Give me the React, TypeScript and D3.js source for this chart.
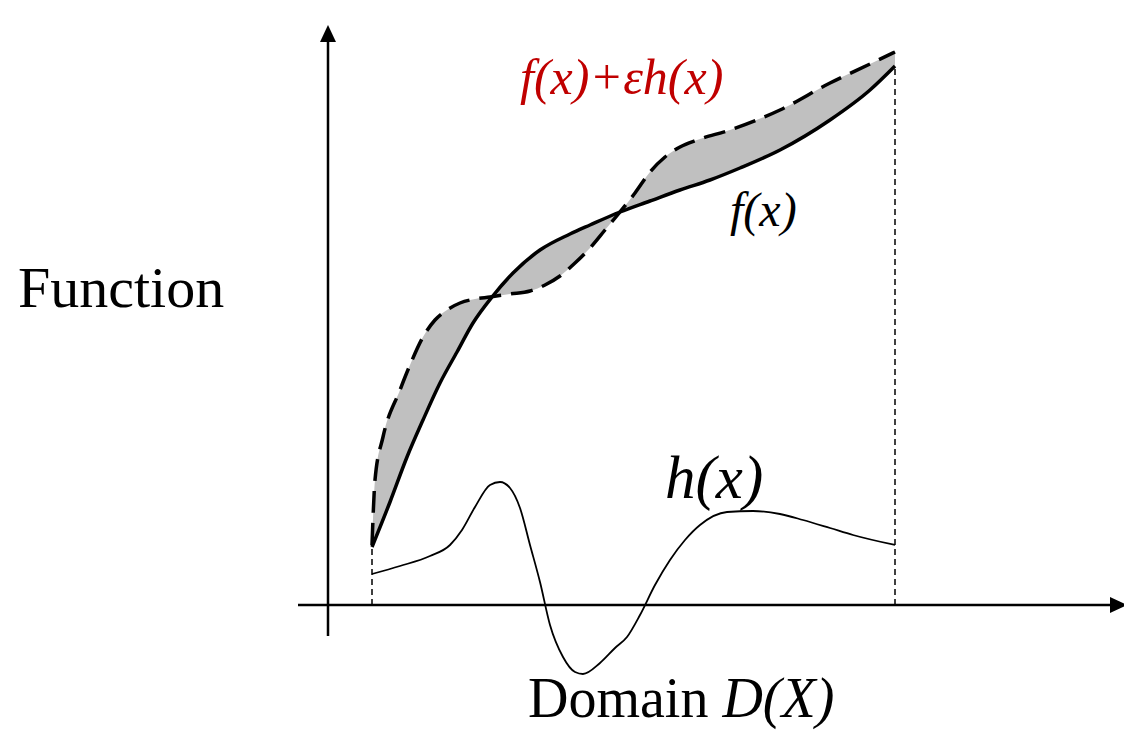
import * as d3 from "d3";

// f(x): the base function (solid)
const fX = [0, 18, 35, 51, 68, 85, 101, 120, 141, 168, 198, 218, 248, 278, 308, 338, 368, 408, 458, 498, 523];
const fY = [58, 103, 148, 185, 222, 253, 282, 308, 332, 355, 371, 380, 393, 404, 415, 425, 437, 455, 485, 515, 539];

// f(x) + eps*h(x): perturbed function (dashed)
const gX = [0, 3, 11, 28, 38, 51, 63, 75, 88, 103, 118, 138, 158, 173, 188, 203, 218, 233, 248, 263, 278, 293, 308, 325, 358, 408, 458, 498, 523];
const gY = [60, 125, 168, 215, 240, 268, 285, 295, 302, 306, 308, 311, 314, 320, 329, 342, 357, 375, 393, 412, 433, 448, 458, 465, 475, 495, 522, 541, 553];

// h(x): the variation (thin)
const hX = [0, 28, 58, 78, 90, 103, 118, 128, 138, 148, 158, 168, 178, 191, 203, 211, 228, 243, 255, 268, 283, 298, 313, 328, 355, 381, 408, 431, 458, 481, 523];
const hY = [31, 39, 49, 60, 75, 98, 120, 123, 117, 97, 60, 23, -20, -52, -67, -69, -58, -43, -32, -10, 20, 45, 65, 80, 93, 94, 91, 85, 77, 70, 60];

// axis extents (data units)
const xAxisRange = [-74, 755];
const yAxisRange = [-31, 580];
const yAxisAt = -44;

const W = 1124;
const H = 731;

const App = () => {
  const x = d3.scaleLinear().domain([0, 523]).range([372, 895]);
  const y = d3.scaleLinear().domain([0, 550]).range([605, 55]);

  const zip = (xs: number[], ys: number[]) => xs.map((v, i) => [v, ys[i]] as [number, number]);
  const fPts = zip(fX, fY);
  const gPts = zip(gX, gY);
  const hPts = zip(hX, hY);

  const line = d3
    .line<[number, number]>()
    .x((d) => x(d[0]))
    .y((d) => y(d[1]))
    .curve(d3.curveMonotoneX);

  // grey band between the two curves
  const top = line(gPts) || "";
  const bottom = line([...fPts].reverse()) || "";
  const band = top + bottom.replace(/^M/, "L") + "Z";

  const ax0 = x(xAxisRange[0]);
  const ax1 = x(xAxisRange[1]);
  const ay = y(0);
  const yx = x(yAxisAt);
  const yTop = y(yAxisRange[1]);
  const yBot = y(yAxisRange[0]);

  const serif = "'Liberation Serif', 'Times New Roman', serif";

  return (
    <svg
      width={W}
      height={H}
      style={{ position: "absolute", left: 0, top: 0, background: "#fff" }}
    >
      <path d={band} fill="#c0c0c0" stroke="none" />

      {/* axes */}
      <line x1={ax0} x2={ax1 - 14} y1={ay} y2={ay} stroke="#000" strokeWidth={2.5} />
      <path d={`M${ax1},${ay} L${ax1 - 17},${ay - 8} L${ax1 - 17},${ay + 8} Z`} fill="#000" />
      <line x1={yx} x2={yx} y1={yBot} y2={yTop + 14} stroke="#000" strokeWidth={2.5} />
      <path d={`M${yx},${yTop} L${yx - 8},${yTop + 17} L${yx + 8},${yTop + 17} Z`} fill="#000" />

      {/* domain boundaries */}
      <line x1={x(fX[0])} x2={x(fX[0])} y1={ay} y2={y(fY[0])} stroke="#000" strokeWidth={1.5} strokeDasharray="6,4" />
      <line
        x1={x(fX[fX.length - 1])}
        x2={x(fX[fX.length - 1])}
        y1={ay}
        y2={y(fY[fY.length - 1])}
        stroke="#000"
        strokeWidth={1.5}
        strokeDasharray="6,4"
      />

      <path d={line(hPts) || ""} fill="none" stroke="#000" strokeWidth={1.8} />
      <path d={line(fPts) || ""} fill="none" stroke="#000" strokeWidth={3.5} />
      <path d={top} fill="none" stroke="#000" strokeWidth={3.5} strokeDasharray="22,10" />

      {/* labels */}
      <text x={18} y={307} fontFamily={serif} fontSize={58}>
        Function
      </text>
      <text x={520} y={94} fontFamily={serif} fontSize={50} fontStyle="italic" fill="#c00000">
        f(x)+εh(x)
      </text>
      <text x={730} y={226} fontFamily={serif} fontSize={48} fontStyle="italic">
        f(x)
      </text>
      <text x={665} y={498} fontFamily={serif} fontSize={61} fontStyle="italic">
        h(x)
      </text>
      <text x={528} y={717} fontFamily={serif} fontSize={56}>
        Domain <tspan fontStyle="italic">D(X)</tspan>
      </text>
    </svg>
  );
};

export default App;
